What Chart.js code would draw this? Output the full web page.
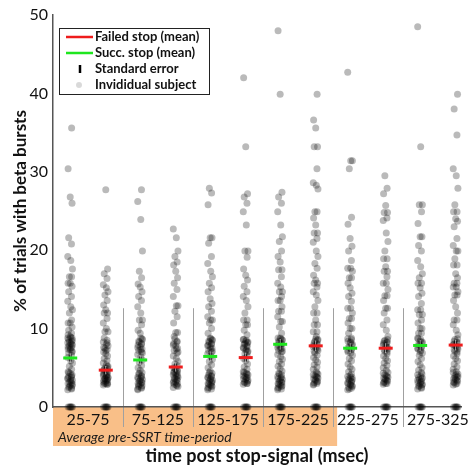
<!DOCTYPE html>
<html>
<head>
<meta charset="utf-8">
<script src="https://cdn.jsdelivr.net/npm/chart.js@4.4.1/dist/chart.umd.min.js"></script>
<style>
  body { margin: 0; background: #fff; }
  #wrap { width: 471px; height: 468px; }
</style>
</head>
<body>
<div id="wrap"><canvas id="graphBursts" width="471" height="468"></canvas></div>
<script>
// données

const categories = ['25-75', '75-125', '125-175', '175-225', '225-275', '275-325'];
const yTicks = [0, 10, 20, 30, 40, 50];

// moyennes (succ = 1re colonne, failed = 2e colonne)
const succMean = [6.25, 6.0, 6.45, 8.0, 7.5, 7.85];
const failMean = [4.7, 5.1, 6.3, 7.8, 7.5, 7.9];
const succSE = [0.45, 0.45, 0.5, 0.55, 0.5, 0.55];
const failSE = [0.4, 0.45, 0.5, 0.55, 0.5, 0.55];

// sujets individuels
const succSubjects = [
  [0,0,0,0,0,0, 2.2,2.4,2.5,2.7,2.8,3.0,3.1,3.2,3.4,3.5,3.6,3.8,3.9,4.1,4.3,4.5,4.8,5.2,5.6,5.9,6.3,6.6,6.9,7.1,7.3,7.4,7.6,7.8,7.9,8.1,8.2,8.4,8.6,8.8,9.0,9.2,
   2.3,2.6,2.9,3.3,3.7,4.0,4.4,7.0,7.5,7.7,8.0,8.3,8.5,8.9,
   8.8,9.4,9.8,10.2,10.7,10.7,11.1,12.0,12.4,12.8,13.5,14.1,14.7,15.4,15.8,15.8,16.6,16.6,17.6,18.7,19.2,20.8,21.6,26.0,26.8,30.4,35.6],
  [0,0,0,0,0,0, 2.2,2.4,2.6,2.7,2.9,3.0,3.2,3.3,3.5,3.7,3.8,4.0,4.2,4.4,4.7,5.0,5.3,5.7,6.0,6.4,6.7,7.0,7.2,7.4,7.7,7.9,8.1,8.3,8.6,8.8,
   2.3,2.5,2.8,3.1,3.4,3.6,3.9,4.3,6.9,7.3,7.6,8.0,8.4,8.7,
   9.4,9.8,10.5,11.1,11.1,12.0,12.8,13.6,14.1,14.7,15.3,15.7,16.5,17.3,19.9,23.9,26.2,27.7],
  [0,0,0,0,0,0, 2.2,2.3,2.5,2.6,2.8,3.0,3.1,3.3,3.4,3.6,3.8,3.9,4.1,4.3,4.6,5.0,5.4,5.8,6.1,6.5,6.8,7.0,7.2,7.5,7.7,7.9,8.1,8.3,8.5,8.7,
   2.4,2.7,2.9,3.2,3.5,3.7,4.0,4.4,7.1,7.4,7.8,8.0,8.4,8.6,
   8.8,9.4,10.0,10.7,11.1,11.1,11.5,12.2,12.8,13.2,13.8,14.7,15.2,15.8,16.6,17.3,18.3,19.2,20.9,21.6,21.6,25.8,27.3,27.9],
  [0,0,0,0,0,0, 2.2,2.3,2.5,2.7,2.8,3.0,3.2,3.3,3.5,3.7,3.9,4.1,4.3,4.6,4.9,5.2,5.5,5.8,6.1,6.4,6.7,7.0,7.2,7.5,7.7,7.9,8.1,8.3,8.5,8.7,
   2.4,2.6,2.9,3.1,3.4,3.6,3.8,4.2,7.1,7.4,7.6,8.0,8.4,8.6,
   8.8,8.8,9.4,10.2,10.9,10.9,11.5,12.2,12.2,12.8,13.6,13.6,14.1,14.7,14.7,15.3,15.8,16.6,17.5,17.5,18.5,19.2,19.9,21.1,21.7,23.2,24.9,26.0,26.8,27.4,39.9,48.0],
  [0,0,0,0,0,0, 2.2,2.4,2.5,2.7,2.9,3.0,3.2,3.4,3.5,3.7,3.9,4.2,4.5,4.8,5.1,5.5,5.9,6.2,6.6,6.9,7.2,7.4,7.7,7.9,8.2,8.4,8.6,
   2.3,2.6,2.8,3.1,3.3,3.6,3.8,4.0,7.0,7.3,7.6,8.0,8.3,8.7,
   8.8,9.4,10.0,10.0,10.7,11.3,11.3,12.0,12.6,12.6,13.5,14.1,14.5,15.2,15.8,16.5,16.5,17.3,17.7,17.7,18.7,19.9,20.5,21.5,23.3,24.2,30.4,31.4,31.4,42.7],
  [0,0,0,0,0,0, 2.3,2.5,2.6,2.8,3.0,3.1,3.3,3.5,3.7,3.9,4.1,4.4,4.7,5.0,5.4,5.8,6.2,6.6,6.9,7.2,7.5,7.7,8.0,8.2,8.4,8.7,
   2.4,2.7,2.9,3.2,3.4,3.6,3.8,4.2,7.0,7.4,7.6,7.9,8.3,8.6,
   8.8,9.4,9.4,10.0,10.0,10.7,11.1,11.8,11.8,12.4,12.4,13.2,14.1,14.5,15.2,15.8,15.8,16.5,17.0,17.9,18.7,19.9,20.6,21.7,21.7,23.4,24.9,25.8,25.8,33.2,48.5]
];
const failSubjects = [
  [0,0,0,0,0,0, 2.8,2.9,3.0,3.1,3.3,3.4,3.5,3.6,3.7,3.9,4.0,4.1,4.3,4.4,4.6,4.7,4.9,5.0,5.2,5.4,5.6,5.9,6.2,6.5,6.8,7.0,7.3,7.5,7.8,8.0,8.3,8.5,8.8,
   2.9,3.0,3.2,3.4,3.6,3.8,4.0,4.2,4.5,4.8,5.1,7.2,7.6,8.2,
   9.6,9.6,10.0,10.7,11.3,12.0,12.0,12.4,13.0,13.6,14.3,14.7,15.2,15.6,16.4,17.0,17.6,27.7],
  [0,0,0,0,0,0, 2.5,2.7,2.9,3.0,3.2,3.3,3.5,3.6,3.8,3.9,4.1,4.3,4.5,4.6,4.8,5.0,5.3,5.5,5.8,6.2,6.5,6.9,7.2,7.5,7.8,8.1,8.4,8.7,
   2.6,2.8,3.1,3.4,3.7,4.0,4.2,4.4,4.7,4.9,7.0,7.4,7.9,8.3,
   9.0,9.5,9.5,10.7,11.5,12.2,12.9,12.9,14.1,15.0,15.8,16.5,17.3,18.1,18.5,19.2,19.9,21.6,22.7],
  [0,0,0,0,0,0, 2.9,3.0,3.2,3.3,3.5,3.6,3.8,3.9,4.1,4.3,4.5,4.8,5.1,5.5,5.9,6.2,6.5,6.8,7.1,7.3,7.6,7.8,8.0,8.2,8.4,8.6,
   3.0,3.1,3.4,3.7,4.0,4.2,4.4,7.0,7.2,7.5,7.7,8.1,8.3,8.5,
   8.6,9.2,9.8,10.5,10.5,11.1,11.1,12.0,12.8,13.6,14.1,14.7,15.4,16.2,16.8,17.6,19.1,19.9,19.9,23.2,24.9,26.0,26.8,27.2,33.2,42.0],
  [0,0,0,0,0,0, 2.8,3.0,3.1,3.3,3.4,3.6,3.8,4.0,4.2,4.5,4.8,5.1,5.4,5.7,6.0,6.3,6.6,6.9,7.2,7.5,7.7,8.0,8.2,8.5,8.7,
   2.9,3.2,3.5,3.7,3.9,4.1,4.3,7.1,7.4,7.6,7.9,8.1,8.4,8.6,
   9.0,9.6,9.6,10.5,10.5,11.1,12.0,12.0,12.8,13.6,14.3,14.7,15.3,15.8,15.8,16.2,16.8,17.7,18.3,19.2,19.9,21.0,21.5,22.2,22.2,23.2,24.1,24.9,24.9,27.8,28.3,28.6,30.4,33.2,33.2,35.6,36.6,39.9],
  [0,0,0,0,0,0, 2.9,3.0,3.2,3.3,3.5,3.7,3.9,4.1,4.4,4.7,5.0,5.3,5.6,5.9,6.2,6.5,6.8,7.1,7.4,7.7,7.9,8.2,8.4,8.6,
   3.0,3.1,3.4,3.6,3.8,4.0,4.3,7.0,7.3,7.6,7.8,8.1,8.3,8.5,
   9.0,9.8,10.5,11.1,12.0,12.6,12.6,13.6,14.2,14.2,15.0,15.8,15.8,16.6,17.3,17.3,17.9,18.9,18.9,19.9,21.1,22.2,23.8,24.1,24.8,24.8,25.7,27.2,27.9,29.5],
  [0,0,0,0,0,0, 2.8,3.0,3.1,3.3,3.5,3.6,3.8,4.0,4.2,4.5,4.8,5.1,5.5,5.9,6.2,6.5,6.8,7.1,7.4,7.7,7.9,8.2,8.4,8.7,
   2.9,3.2,3.4,3.7,3.9,4.1,4.4,7.0,7.3,7.6,7.8,8.0,8.3,8.6,
   9.2,9.8,10.5,11.1,11.1,12.0,12.8,13.6,14.3,14.3,14.7,15.3,15.3,15.8,15.8,16.5,17.0,18.1,18.1,18.9,19.9,19.9,20.6,21.5,23.0,23.7,24.0,24.9,24.9,25.8,27.9,29.5,30.4,34.7,38.0,39.9]
];

// petit décalage horizontal des points (comme dans la figure)
const jitter = [0, -0.03, 0.02, -0.012, 0.032, 0.008, -0.035, 0.018, -0.022, 0.026];
const colOffset = 0.254;

function subjectPoints(lists, side) {
  return lists.flatMap((vals, g) =>
    vals.map((v, k) => ({ x: g + 1 + side * colOffset + jitter[k % jitter.length], y: v })));
}
function meanPoints(means, side) {
  return means.map((m, g) => ({ x: g + 1 + side * colOffset, y: m }));
}

const FONT = 'Lato, "Open Sans", sans-serif';
const RED = '#ee1c1c';
const GREEN = '#1ee61e';

// boite orange + séparateurs
const decorPlugin = {
  id: 'decor',
  beforeDraw(chart) {
    const { ctx, scales: { x, y } } = chart;
    const base = y.getPixelForValue(0);
    ctx.save();
    ctx.fillStyle = '#f9bf88';
    const left = x.getPixelForValue(0.5);
    ctx.fillRect(left, base, x.getPixelForValue(4.56) - left, 39);
    ctx.fillStyle = '#1a1a1a';
    ctx.font = 'italic 14px ' + FONT;
    ctx.textBaseline = 'middle';
    ctx.fillText('Average pre-SSRT time-period', left + 5, base + 30);
    ctx.strokeStyle = '#a0a0a0';
    ctx.lineWidth = 1;
    for (let i = 1; i < categories.length; i++) {
      const px = Math.round(x.getPixelForValue(i + 0.5)) + 0.5;
      ctx.beginPath();
      ctx.moveTo(px, y.getPixelForValue(12.6));
      ctx.lineTo(px, base + 20);
      ctx.stroke();
    }
    ctx.restore();
  },
  afterDatasetDraw(chart, args) {
    if (args.index !== 2) return;
    // erreur standard
    const { ctx, scales: { x, y } } = chart;
    ctx.save();
    const bars = [[succMean, succSE, -1], [failMean, failSE, 1]];
    bars.forEach(([means, ses, side]) => {
      means.forEach((m, g) => {
        const px = x.getPixelForValue(g + 1 + side * colOffset);
        const y1 = y.getPixelForValue(m - ses[g]);
        const y2 = y.getPixelForValue(m + ses[g]);
        ctx.strokeStyle = '#000';
        ctx.lineWidth = 2.5;
        ctx.beginPath(); ctx.moveTo(px, y1); ctx.lineTo(px, y2); ctx.stroke();
        ctx.strokeStyle = 'rgba(255,255,255,0.7)';
        ctx.lineWidth = 1;
        ctx.beginPath(); ctx.moveTo(px, y1 + 1); ctx.lineTo(px, y2 - 1); ctx.stroke();
      });
    });
    ctx.restore();
  },
  afterDraw(chart) {
    // légende
    const { ctx } = chart;
    ctx.save();
    ctx.fillStyle = '#fff';
    ctx.fillRect(59, 28, 150, 66);
    ctx.strokeStyle = '#222';
    ctx.lineWidth = 1;
    ctx.strokeRect(59.5, 28.5, 150, 66);
    const rows = [37, 53, 69, 85];
    ctx.lineWidth = 2.5;
    ctx.strokeStyle = RED;
    ctx.beginPath(); ctx.moveTo(66, rows[0]); ctx.lineTo(93, rows[0]); ctx.stroke();
    ctx.strokeStyle = GREEN;
    ctx.beginPath(); ctx.moveTo(66, rows[1]); ctx.lineTo(93, rows[1]); ctx.stroke();
    ctx.strokeStyle = '#000';
    ctx.beginPath(); ctx.moveTo(80, rows[2] - 4); ctx.lineTo(80, rows[2] + 4); ctx.stroke();
    ctx.fillStyle = 'rgba(0,0,0,0.15)';
    ctx.beginPath(); ctx.arc(79, rows[3], 3, 0, Math.PI * 2); ctx.fill();
    ctx.fillStyle = '#111';
    ctx.font = 'bold 13px ' + FONT;
    ctx.textBaseline = 'middle';
    const labels = ['Failed stop (mean)', 'Succ. stop (mean)', 'Standard error', 'Invididual subject'];
    labels.forEach((t, i) => ctx.fillText(t, 95, rows[i]));
    ctx.restore();
  }
};

new Chart(document.getElementById('graphBursts'), {
  type: 'scatter',
  data: {
    datasets: [
      {
        label: 'Failed stop (mean)',
        data: meanPoints(failMean, 1),
        pointStyle: 'line', pointRadius: 7, pointBorderWidth: 3,
        borderColor: RED, backgroundColor: RED, order: 0, clip: false
      },
      {
        label: 'Succ. stop (mean)',
        data: meanPoints(succMean, -1),
        pointStyle: 'line', pointRadius: 7, pointBorderWidth: 3,
        borderColor: GREEN, backgroundColor: GREEN, order: 0, clip: false
      },
      {
        label: 'Invididual subject',
        data: subjectPoints(succSubjects, -1).concat(subjectPoints(failSubjects, 1)),
        pointRadius: 3.5, borderWidth: 0,
        backgroundColor: 'rgba(0,0,0,0.27)', order: 2, clip: false
      }
    ]
  },
  options: {
    responsive: false,
    animation: false,
    events: [],
    layout: { padding: { top: 15, right: 0, left: 0, bottom: 0 } },
    plugins: { legend: { display: false }, tooltip: { enabled: false } },
    scales: {
      x: {
        type: 'linear',
        min: 0.5,
        max: 6.33,
        grid: { display: false, drawTicks: false },
        border: { display: true, color: '#555', width: 1.5 },
        afterBuildTicks: (scale) => { scale.ticks = categories.map((c, i) => ({ value: i + 1 })); },
        afterFit: (scale) => { scale.height = 61; scale.paddingRight = 0; scale.paddingLeft = 0; },
        ticks: {
          autoSkip: false, maxRotation: 0, padding: 3,
          color: '#111', font: { family: FONT, size: 16 },
          callback: (v) => categories[v - 1]
        },
        title: {
          display: true, text: 'time post stop-signal (msec)',
          color: '#111', font: { family: FONT, size: 18, weight: 'bold' },
          padding: { top: 0, bottom: 1 }
        }
      },
      y: {
        min: 0,
        max: 50,
        grid: { display: false, drawTicks: false },
        border: { display: true, color: '#555', width: 1.5 },
        afterBuildTicks: (scale) => { scale.ticks = yTicks.map(v => ({ value: v })); },
        afterFit: (scale) => { scale.width = 53; },
        ticks: { padding: 5, color: '#111', font: { family: FONT, size: 16 } },
        title: {
          display: true, text: '% of trials with beta bursts',
          color: '#111', font: { family: FONT, size: 17, weight: 'bold' },
          padding: { top: 10, bottom: 0 }
        }
      }
    }
  },
  plugins: [decorPlugin]
});
</script>
</body>
</html>
